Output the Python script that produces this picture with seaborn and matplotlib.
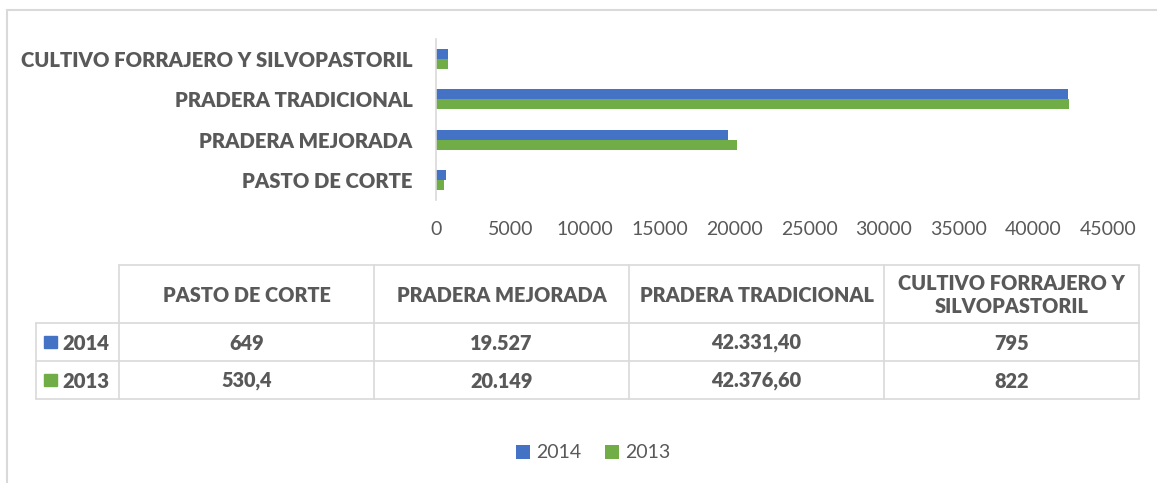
import pandas as pd
import numpy as np
import matplotlib
matplotlib.use("Agg")
import matplotlib.pyplot as plt
import seaborn as sb
from matplotlib.lines import Line2D
from matplotlib.patches import Rectangle

# data (table order, left to right)
categorias = ["PASTO DE CORTE", "PRADERA MEJORADA", "PRADERA TRADICIONAL",
              "CULTIVO FORRAJERO Y SILVOPASTORIL"]
encabezados = ["PASTO DE CORTE", "PRADERA MEJORADA", "PRADERA TRADICIONAL",
               "CULTIVO FORRAJERO Y\nSILVOPASTORIL"]
anios = ["2014", "2013"]
valores_2014 = [649, 19527, 42331.4, 795]
valores_2013 = [530.4, 20149, 42376.6, 822]
texto_2014 = ["649", "19.527", "42.331,40", "795"]
texto_2013 = ["530,4", "20.149", "42.376,60", "822"]
xticks = list(range(0, 45001, 5000))

azul = "#4472C4"
verde = "#70AD47"
gris_txt = "#595959"
gris_lin = "#D9D9D9"

W, H = 1157, 483


def fx(x):
    return x / W


def fy(y):
    return 1 - y / H


def main():
    df = pd.DataFrame({
        "categoria": categorias * 2,
        "anio": ["2014"] * 4 + ["2013"] * 4,
        "valor": valores_2014 + valores_2013,
    })

    sb.set_style("white")
    plt.rcParams["font.family"] = ["Lato", "DejaVu Sans"]

    fig = plt.figure(figsize=(W / 100, H / 100), dpi=100)
    ax = fig.add_axes([fx(436), fy(200), fx(1108) - fx(436), fy(39) - fy(200)])

    g = sb.barplot(data=df, y="categoria", x="valor", hue="anio",
                   order=categorias[::-1], hue_order=anios,
                   palette=[azul, verde], width=0.5, ax=ax,
                   edgecolor="none", linewidth=0, saturation=1)
    h, l = g.get_legend_handles_labels()
    g.legend_.remove()

    ax.set_xlim(0, 45000)
    ax.set_xticks(xticks)
    ax.set(xlabel="", ylabel="")
    for s in ["top", "right", "bottom"]:
        ax.spines[s].set_visible(False)
    ax.spines["left"].set_color(gris_lin)
    ax.spines["left"].set_linewidth(1.2)
    ax.tick_params(axis="x", length=0, pad=15, labelsize=14, labelcolor=gris_txt)
    ax.tick_params(axis="y", length=0, pad=17, labelsize=14.6, labelcolor=gris_txt)
    for t in ax.get_yticklabels():
        t.set_fontweight("heavy")

    # outer chart border
    fig.add_artist(Line2D([fx(7), fx(7)], [fy(10), fy(483)], color=gris_lin, lw=1.5))
    fig.add_artist(Line2D([fx(7), fx(1157)], [fy(10), fy(10)], color=gris_lin, lw=1.5))

    # data table
    col_x = [119, 374, 629, 884, 1139]
    row_y = [265, 323, 361, 399]
    lk = dict(color=gris_lin, lw=1.2)
    fig.add_artist(Line2D([fx(119), fx(1139)], [fy(265), fy(265)], **lk))
    for y in row_y[1:]:
        fig.add_artist(Line2D([fx(36), fx(1139)], [fy(y), fy(y)], **lk))
    fig.add_artist(Line2D([fx(36), fx(36)], [fy(323), fy(399)], **lk))
    for x in col_x:
        fig.add_artist(Line2D([fx(x), fx(x)], [fy(265), fy(399)], **lk))

    tk = dict(ha="center", va="center", color=gris_txt, fontsize=14.3,
              fontweight="heavy")
    for i in range(4):
        cx = (col_x[i] + col_x[i + 1]) / 2
        fig.text(fx(cx), fy(295), encabezados[i], linespacing=1.25, **tk)
        fig.text(fx(cx), fy(343), texto_2014[i], **tk)
        fig.text(fx(cx), fy(381), texto_2013[i], **tk)

    for anio, color, yc in [("2014", azul, 342), ("2013", verde, 380)]:
        fig.add_artist(Rectangle((fx(44), fy(yc + 6)), fx(57) - fx(44),
                                 fy(yc - 6) - fy(yc + 6), color=color,
                                 transform=fig.transFigure))
        fig.text(fx(62), fy(yc + 1), anio, ha="left", va="center",
                 color=gris_txt, fontsize=14.6, fontweight="heavy")

    fig.legend(h, l, loc="center", bbox_to_anchor=(fx(593), fy(453)), ncol=2,
               frameon=False, handlelength=0.75, handleheight=0.75,
               handletextpad=0.3, columnspacing=1.2, fontsize=14,
               labelcolor=gris_txt)

    fig.savefig("out.png", dpi=100, facecolor="white")
    plt.close(fig)


if __name__ == "__main__":
    main()
